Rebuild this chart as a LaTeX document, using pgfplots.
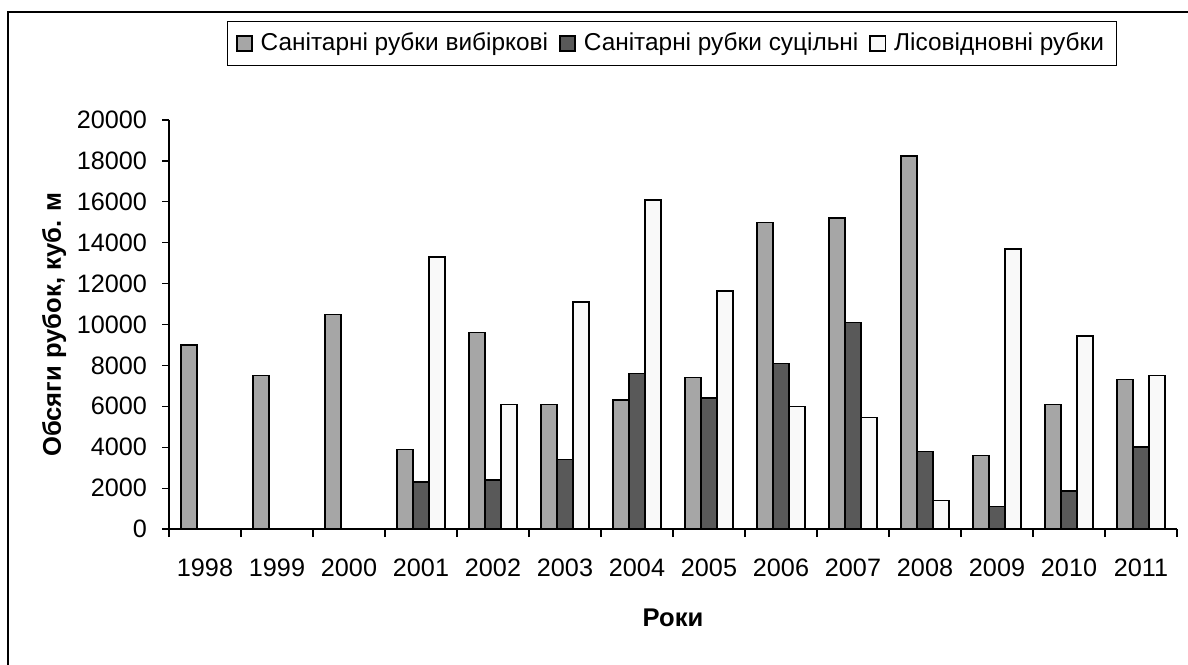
\documentclass[border=0pt]{standalone}
\usepackage{fontspec}
\setmainfont{Liberation Sans}
\usepackage{pgfplots}
\pgfplotsset{compat=1.18}
\definecolor{cgray}{HTML}{A6A6A6}
\definecolor{cdark}{HTML}{595959}
\definecolor{cwhite}{HTML}{F9F9F9}
\begin{document}
\begin{tikzpicture}
\useasboundingbox (0pt,0pt) rectangle (594pt,-332pt);
\draw[line width=0.8pt] (4pt,-345pt) -- (4pt,-6pt) -- (605pt,-6pt);
\begin{axis}[
  at={(84.5pt,-264.5pt)}, anchor=south west,
  scale only axis, width=504pt, height=204.5pt,
  ybar=0pt, bar width=8pt,
  xmin=-0.5, xmax=13.5, ymin=0, ymax=20000,
  axis x line=bottom, axis y line=left,
  axis line style={-, line width=0.6pt, black},
  xtick={0,1,2,3,4,5,6,7,8,9,10,11,12,13},
  xticklabels={1998,1999,2000,2001,2002,2003,2004,2005,2006,2007,2008,2009,2010,2011},
  major x tick style={draw=none},
  minor xtick={-0.5,0.5,1.5,2.5,3.5,4.5,5.5,6.5,7.5,8.5,9.5,10.5,11.5,12.5,13.5},
  minor x tick style={black, line width=0.6pt},
  ytick={0,2000,4000,6000,8000,10000,12000,14000,16000,18000,20000},
  y tick style={black, line width=0.6pt},
  tick align=outside,
  major tick length=3.5pt, minor tick length=4pt,
  scaled y ticks=false,
  /pgf/number format/assume math mode=true,
  /pgf/number format/fixed,
  /pgf/number format/set thousands separator={},
  tick label style={font=\fontsize{12.6}{15}\selectfont},
  xticklabel style={yshift=-8pt},
  yticklabel style={xshift=-4pt},
  xlabel={\textbf{Роки}},
  ylabel={\textbf{Обсяги рубок, куб. м}},
  label style={font=\fontsize{12.8}{15}\selectfont},
  xlabel style={at={(axis description cs:0.5,-0.2176)}, anchor=center},
  ylabel style={at={(axis description cs:-0.114,0.5)}, anchor=center, rotate=0},
  legend columns=3,
  legend style={at={(axis description cs:0.499,1.187)}, anchor=center,
    draw=black, line width=0.5pt, font=\fontsize{12.2}{15}\selectfont,
    inner xsep=4pt, inner ysep=4pt,
    /tikz/every odd column/.append style={column sep=2pt},
    /tikz/every even column/.append style={column sep=3.5pt}},
  legend image code/.code={\draw[#1, line width=0.8pt] (0pt,-3.8pt) rectangle (7.6pt,3.8pt);},
]
\addplot[fill=cgray, draw=black, line width=0.75pt] coordinates {(0,9000)(1,7500)(2,10500)(3,3900)(4,9600)(5,6100)(6,6300)(7,7400)(8,15000)(9,15200)(10,18250)(11,3600)(12,6100)(13,7300)};
\addplot[fill=cdark, draw=black, line width=0.75pt] coordinates {(3,2300)(4,2400)(5,3400)(6,7600)(7,6400)(8,8100)(9,10100)(10,3800)(11,1100)(12,1850)(13,4000)};
\addplot[fill=cwhite, draw=black, line width=0.75pt] coordinates {(3,13300)(4,6100)(5,11100)(6,16100)(7,11650)(8,6000)(9,5450)(10,1400)(11,13700)(12,9450)(13,7500)};
\legend{Санітарні рубки вибіркові, Санітарні рубки суцільні, Лісовідновні рубки}
\end{axis}
\end{tikzpicture}
\end{document}
